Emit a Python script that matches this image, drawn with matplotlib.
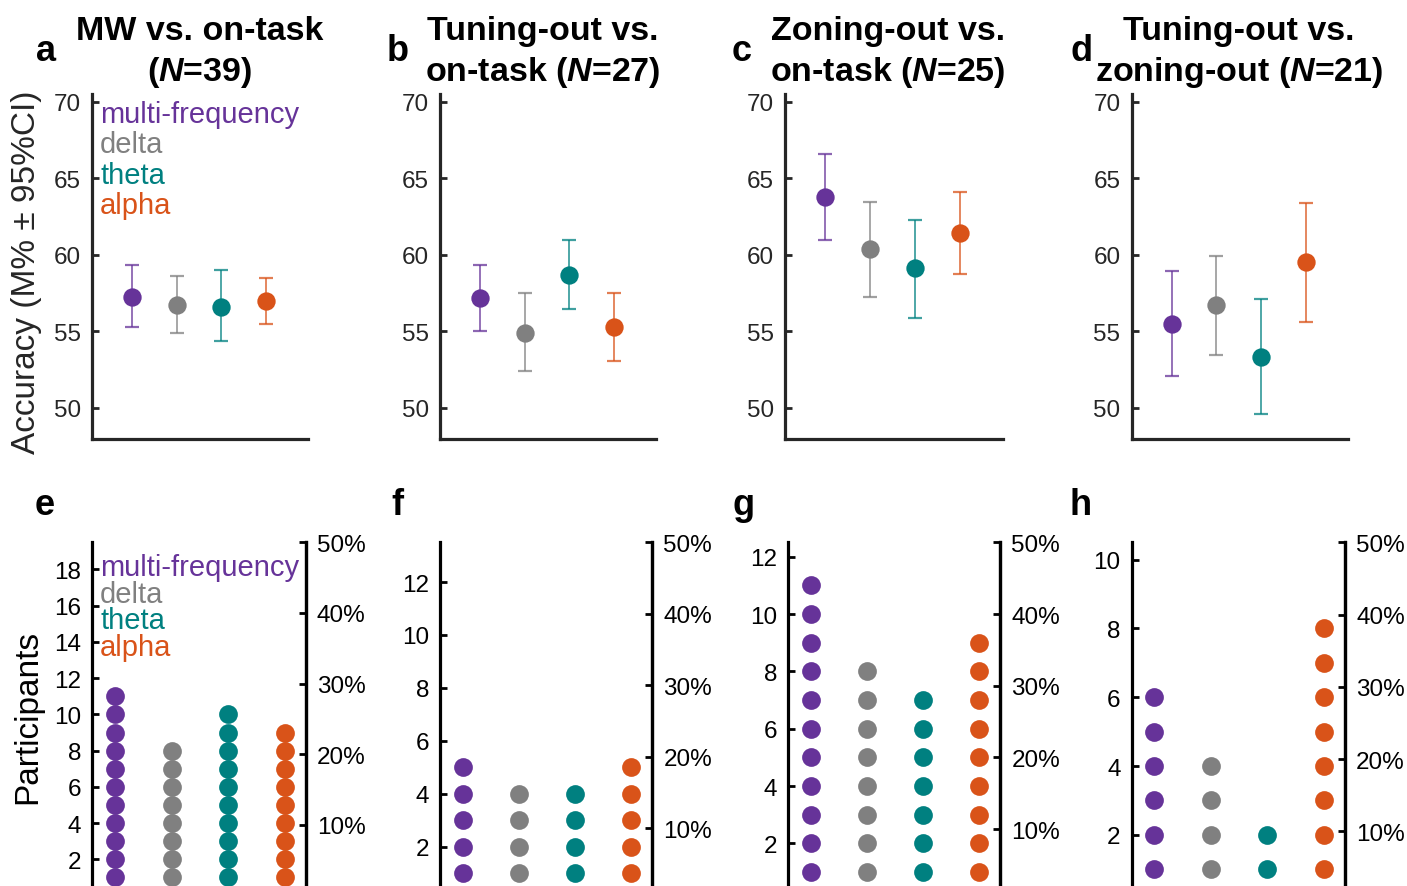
import matplotlib
matplotlib.use('Agg')
import matplotlib.pyplot as plt
from matplotlib.colors import to_rgba

plt.rcParams['font.family'] = ['Liberation Sans', 'DejaVu Sans']
plt.rcParams['mathtext.fontset'] = 'custom'
plt.rcParams['mathtext.it'] = 'Liberation Sans:italic:bold'
plt.rcParams['mathtext.rm'] = 'Liberation Sans:bold'

# Donnees
bands = ['multi-frequency', 'delta', 'theta', 'alpha']
colors = ['#663399', '#808080', '#008080', '#D95319']
titles = ['MW vs. on-task\n($N$=39)', 'Tuning-out vs.\non-task ($N$=27)',
          'Zoning-out vs.\non-task ($N$=25)', 'Tuning-out vs.\nzoning-out ($N$=21)']
n_part = [39, 27, 25, 21]

acc_mean = [[57.25, 56.7, 56.6, 57.0],
            [57.2, 54.9, 58.7, 55.25],
            [63.75, 60.35, 59.15, 61.4],
            [55.5, 56.7, 53.35, 59.5]]
acc_low = [[55.25, 54.9, 54.4, 55.5],
           [55.05, 52.4, 56.45, 53.05],
           [60.95, 57.25, 55.9, 58.75],
           [52.05, 53.45, 49.6, 55.6]]
acc_high = [[59.3, 58.6, 59.0, 58.5],
            [59.35, 57.5, 60.95, 57.5],
            [66.55, 63.45, 62.3, 64.1],
            [58.95, 59.9, 57.1, 63.4]]

counts = [[11, 8, 10, 9],
          [5, 4, 4, 5],
          [11, 8, 7, 9],
          [6, 4, 2, 8]]
count_ticks = [[2, 4, 6, 8, 10, 12, 14, 16, 18],
               [2, 4, 6, 8, 10, 12],
               [2, 4, 6, 8, 10, 12],
               [2, 4, 6, 8, 10]]
pct_ticks = [10, 20, 30, 40, 50]

W, H = 1407, 887
fig = plt.figure(figsize=(W / 100, H / 100), dpi=100)


def px_axes(left, top, right, bottom):
    return fig.add_axes([left / W, 1 - bottom / H, (right - left) / W, (bottom - top) / H])


top_boxes = [(92, 95, 308, 439.5), (440, 95, 656, 439.5),
             (785, 95, 1003, 439.5), (1131.5, 95, 1348, 439.5)]
bot_boxes = [(92.3, 543.3, 305.7, 887.5), (440, 543.3, 652.3, 887.5),
             (788.3, 543.3, 1000.3, 887.5), (1131.7, 543.3, 1345, 887.5)]
title_x = [0.5, 0.475, 0.473, 0.495]
dark = '#262626'
xs = [1, 2, 3, 4]

# Ligne du haut : precision moyenne +/- IC95
for k in range(4):
    ax = px_axes(*top_boxes[k])
    for i in range(4):
        m = acc_mean[k][i]
        ax.errorbar(xs[i], m, yerr=[[m - acc_low[k][i]], [acc_high[k][i] - m]],
                    fmt='none', ecolor=to_rgba(colors[i], 0.75), elinewidth=1.3,
                    capsize=5, capthick=1.6)
        ax.plot(xs[i], m, 'o', color=colors[i], ms=13.2, mec='none')
    ax.set_xlim(0.1, 4.95)
    ax.set_ylim(48, 70.5)
    ax.set_yticks([50, 55, 60, 65, 70])
    ax.set_xticks([])
    for s in ['top', 'right']:
        ax.spines[s].set_visible(False)
    for s in ['left', 'bottom']:
        ax.spines[s].set_linewidth(2.3)
        ax.spines[s].set_color(dark)
    ax.tick_params(axis='y', direction='in', length=5, width=2, colors=dark,
                   labelsize=17.5, pad=8)
    ax.set_title(titles[k], fontsize=24.5, fontweight='bold', pad=10, linespacing=1.32,
                 x=title_x[k])

# Ligne du bas : nombre de participants par bande
for k in range(4):
    ax = px_axes(*bot_boxes[k])
    n = n_part[k]
    for i in range(4):
        ys = list(range(1, counts[k][i] + 1))
        ax.plot([xs[i]] * len(ys), ys, 'o', color=colors[i], ms=13.5, mec='none')
    ax.set_xlim(0.6, 4.37)
    ax.set_ylim(0.5, n / 2)
    ax.set_yticks(count_ticks[k])
    ax.set_xticks([])
    ax.spines['top'].set_visible(False)
    ax.spines['bottom'].set_linewidth(1)
    ax.spines['bottom'].set_color('#999999')
    for s in ['left', 'right']:
        ax.spines[s].set_linewidth(2.3)
    ax.tick_params(axis='y', direction='in', length=5, width=2, labelsize=17.5, pad=8)

    ax2 = ax.twinx()
    ax2.set_ylim(0.5 / n * 100, 50)
    ax2.set_yticks(pct_ticks)
    ax2.set_yticklabels([f'{p}%' for p in pct_ticks])
    for s in ['top', 'bottom', 'left']:
        ax2.spines[s].set_visible(False)
    ax2.spines['right'].set_linewidth(2.3)
    ax2.tick_params(axis='y', direction='in', length=5, width=2, labelsize=17.5, pad=8)

# Legendes en texte colore
for i in range(4):
    fig.text(100 / W, 1 - (123 + 30.5 * i) / H, bands[i], color=colors[i],
             fontsize=21, va='baseline', ha='left')
    fig.text(100 / W, 1 - (576 + 26.7 * i) / H, bands[i], color=colors[i],
             fontsize=21, va='baseline', ha='left')

# Etiquettes des axes
fig.text(27 / W, 1 - 272 / H, 'Accuracy (M% ± 95%CI)', rotation=90, ha='center',
         va='center', fontsize=24, color=dark)
fig.text(28 / W, 1 - 717 / H, 'Participants', rotation=90, ha='center',
         va='center', fontsize=24)

# Lettres des panneaux
letters_top = [('a', 36), ('b', 387), ('c', 732), ('d', 1070)]
letters_bot = [('e', 35), ('f', 391), ('g', 732), ('h', 1070)]
for lt, x in letters_top:
    fig.text(x / W, 1 - 61 / H, lt, fontsize=26, fontweight='bold', va='baseline')
for lt, x in letters_bot:
    fig.text(x / W, 1 - 515 / H, lt, fontsize=26, fontweight='bold', va='baseline')

fig.savefig('out.png', dpi=100)
